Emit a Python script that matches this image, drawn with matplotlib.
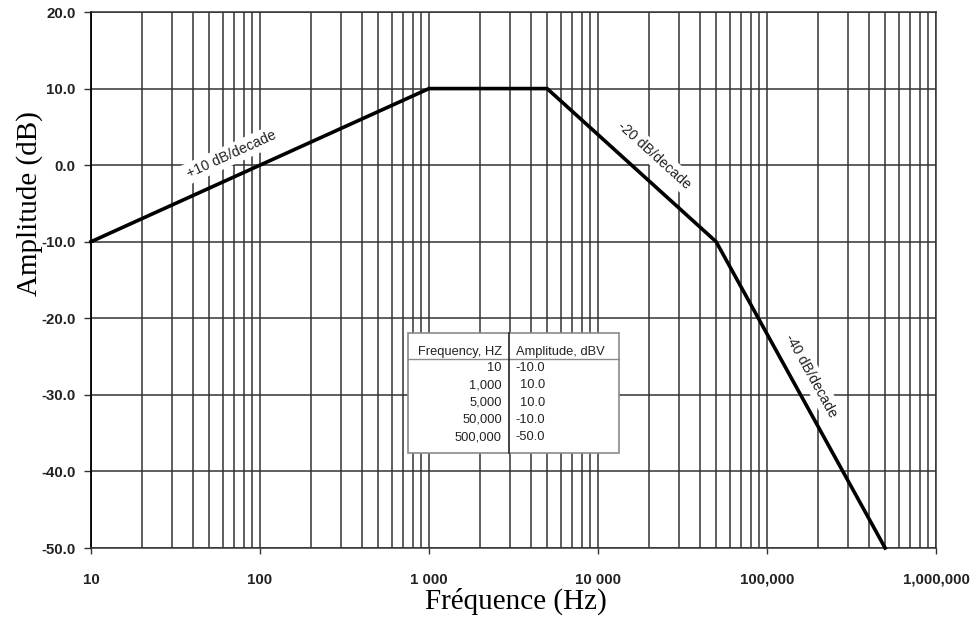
import numpy as np
import matplotlib
matplotlib.use("Agg")
import matplotlib.pyplot as plt
from matplotlib.patches import Rectangle
from matplotlib.lines import Line2D

# ---- data ----
freq_hz = [10, 1000, 5000, 50000, 500000]
amp_db = [-10.0, 10.0, 10.0, -10.0, -50.0]
freq_labels = ["10", "1,000", "5,000", "50,000", "500,000"]
amp_labels = ["-10.0", "10.0", "10.0", "-10.0", "-50.0"]
x_ticks = [10, 100, 1000, 10000, 100000, 1000000]
x_ticklabels = ["10", "100", "1 000", "10 000", "100,000", "1,000,000"]
y_ticks = [20, 10, 0, -10, -20, -30, -40, -50]
y_ticklabels = ["20.0", "10.0", "0.0", "-10.0", "-20.0", "-30.0", "-40.0", "-50.0"]
slope_texts = ["+10 dB/decade", "-20 dB/decade", "-40 dB/decade"]
slope_pos_f = [67.5, 21500, 183000]
slope_pos_db = [1.4, 1.3, -27.5]
slope_angle = [24.4, -42.2, -61.1]

W, H = 973, 628
fig = plt.figure(figsize=(W / 100, H / 100), dpi=100)
x0, x1 = 91, 936
ytop, ybot = 12, 548
ax = fig.add_axes([x0 / W, 1 - ybot / H, (x1 - x0) / W, (ybot - ytop) / H])

ax.set_xscale("log")
ax.set_xlim(10, 1e6)
ax.set_ylim(-50, 20)

gridc = "#333333"
ax.set_xticks(x_ticks)
ax.set_xticklabels(x_ticklabels)
ax.set_yticks(y_ticks)
ax.set_yticklabels(y_ticklabels)
ax.xaxis.set_minor_locator(matplotlib.ticker.LogLocator(base=10, subs=np.arange(2, 10)))
ax.xaxis.set_minor_formatter(matplotlib.ticker.NullFormatter())
ax.grid(True, which="both", axis="x", color=gridc, lw=1.1, zorder=1)
ax.grid(True, which="major", axis="y", color=gridc, lw=1.1, zorder=1)
ax.set_axisbelow(True)
ax.tick_params(axis="x", which="major", length=4, width=1, color=gridc, pad=14)
ax.tick_params(axis="x", which="minor", length=0)
ax.tick_params(axis="y", which="major", length=5, width=1, color=gridc, pad=6)
for lab in ax.get_xticklabels() + ax.get_yticklabels():
    lab.set_fontfamily("Liberation Sans")
    lab.set_fontsize(10.8)
    lab.set_color("#222222")
    lab.set_fontweight("bold")
for s in ax.spines.values():
    s.set_color(gridc)
    s.set_linewidth(1.1)
ax.spines["left"].set_color("black")
ax.spines["left"].set_linewidth(1.3)

# main curve
ax.plot(freq_hz, amp_db, color="black", lw=2.6, zorder=5, solid_joinstyle="miter",
        clip_on=False)

# slope labels
for t, f, d, a in zip(slope_texts, slope_pos_f, slope_pos_db, slope_angle):
    ax.text(f, d, t, rotation=a, rotation_mode="anchor", ha="center", va="center",
            fontsize=10.3, family="Liberation Sans", color="#222222", zorder=3,
            bbox=dict(facecolor="white", edgecolor="none", pad=2.5))

# data table inset (axes-fraction coords)
def fx(px):
    return (px - x0) / (x1 - x0)

def fy(py):
    return (ybot - py) / (ybot - ytop)

tl, tr, tt, tb = fx(408), fx(619), fy(333), fy(453)
tsep, thead = fx(509), fy(359)
ax.add_patch(Rectangle((tl, tb), tr - tl, tt - tb, transform=ax.transAxes,
                       facecolor="white", edgecolor="#8a8a8a", lw=1.2, zorder=6))
ax.add_line(Line2D([tl, tr], [thead, thead], transform=ax.transAxes, color="#8a8a8a",
                   lw=1.0, zorder=7))
ax.add_line(Line2D([tsep, tsep], [tb, tt], transform=ax.transAxes, color="#222222",
                   lw=1.2, zorder=7))
tkw = dict(transform=ax.transAxes, fontsize=9.3, family="Liberation Sans",
           color="#222222", va="center", zorder=8)
ax.text(fx(502), fy(352), "Frequency, HZ", ha="right", **tkw)
ax.text(fx(516), fy(352), "Amplitude, dBV", ha="left", **tkw)
row_y = [368, 385.5, 402.7, 420, 437]
for fl, al, ry in zip(freq_labels, amp_labels, row_y):
    ax.text(fx(502), fy(ry), fl, ha="right", **tkw)
    ax.text(fx(515) + (0 if al.startswith("-") else fx(520) - fx(515)), fy(ry), al,
            ha="left", **tkw)

# axis labels
ax.set_xlabel("Fréquence (Hz)", family="Liberation Serif", fontsize=21)
ax.set_ylabel("Amplitude (dB)", family="Liberation Serif", fontsize=21)
ax.xaxis.set_label_coords(fx(516), fy(601))
ax.xaxis.label.set_va("center")
ax.yaxis.set_label_coords(fx(30), fy(204))
ax.yaxis.label.set_va("center")

fig.savefig("out.png", dpi=100)
